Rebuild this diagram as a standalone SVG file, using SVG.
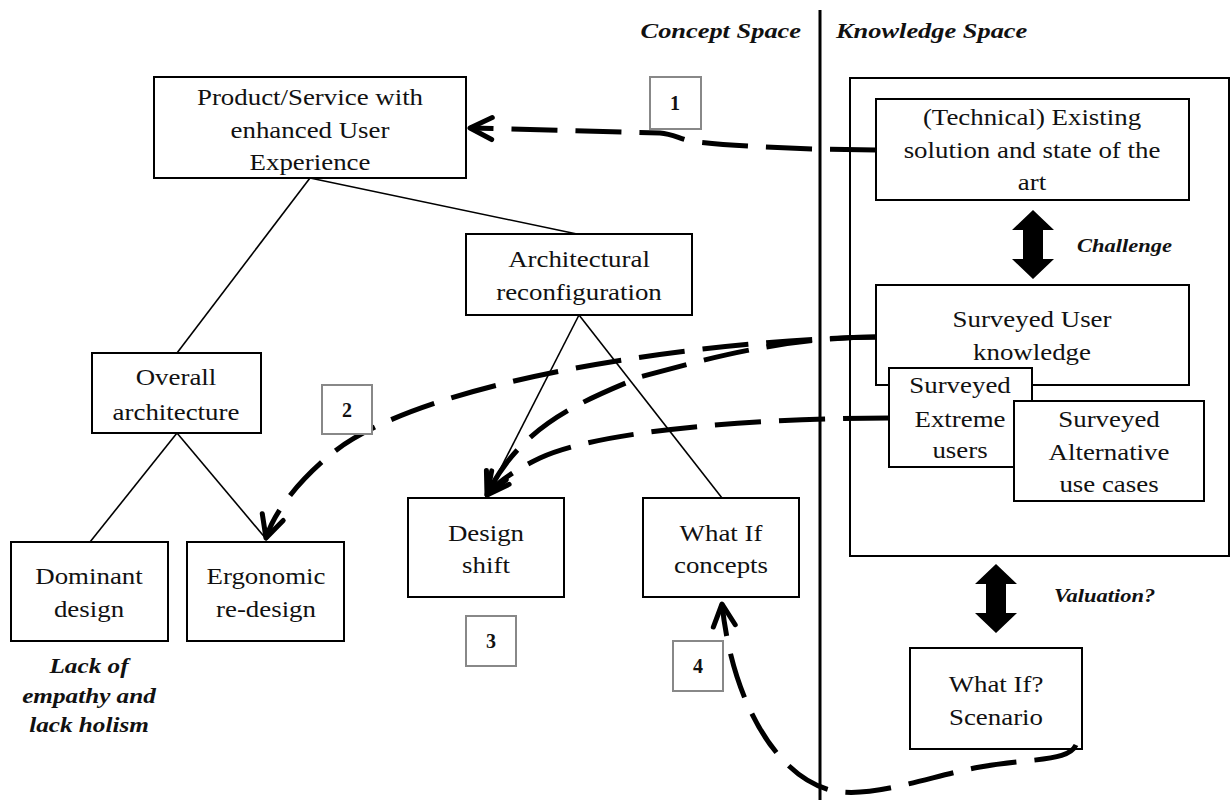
<svg xmlns="http://www.w3.org/2000/svg" width="1232" height="800" viewBox="0 0 1232 800">
<defs>
<style>
.box{fill:#fff;stroke:#000;stroke-width:2}
.lbl{fill:#fff;stroke:#888;stroke-width:2}
.t{font-family:"Liberation Serif","Times New Roman",serif;font-size:24px;fill:#111;text-anchor:middle}
.n{font-family:"Liberation Serif","Times New Roman",serif;font-size:20px;font-weight:bold;fill:#111;text-anchor:middle}
.bi{font-family:"Liberation Serif","Times New Roman",serif;font-weight:bold;font-style:italic;fill:#111}
.tree{stroke:#000;stroke-width:1.6;fill:none}
.dash{stroke:#000;stroke-width:5;fill:none;stroke-dasharray:46 18}
</style>
<marker id="chev" markerUnits="userSpaceOnUse" markerWidth="60" markerHeight="60" refX="0" refY="0" orient="auto" overflow="visible" viewBox="-30 -30 60 60">
<path d="M -22 -11 L 0 0 L -22 11" fill="none" stroke="#000" stroke-width="5" stroke-linecap="round" stroke-linejoin="round" stroke-dasharray="none"/>
</marker>
</defs>

<g id="tree-lines">
<line class="tree" x1="310" y1="178" x2="577" y2="234"/>
<line class="tree" x1="310" y1="178" x2="177" y2="353"/>
<line class="tree" x1="177" y1="433" x2="90" y2="542"/>
<line class="tree" x1="177" y1="433" x2="267" y2="540"/>
<line class="tree" x1="579" y1="315" x2="486" y2="497"/>
<line class="tree" x1="579" y1="315" x2="722" y2="498"/>
</g>

<line id="divider" x1="820" y1="10" x2="820" y2="800" stroke="#000" stroke-width="3"/>

<g id="headers">
<text class="bi" font-size="22" text-anchor="end" transform="translate(801,0) scale(1.2,1)" x="0" y="38">Concept Space</text>
<text class="bi" font-size="22" text-anchor="start" transform="translate(836,0) scale(1.2,1)" x="0" y="38">Knowledge Space</text>
</g>

<g id="knowledge-space">
<rect class="box" x="850" y="78" width="379" height="478"/>
</g>

<g id="product">
<rect class="box" x="154" y="77" width="312" height="101"/>
<g transform="translate(310,0) scale(1.12,1)">
<text class="t" x="0" y="105">Product/Service with</text>
<text class="t" x="0" y="138">enhanced User</text>
<text class="t" x="0" y="170">Experience</text>
</g>
</g>

<g id="architectural">
<rect class="box" x="466" y="234" width="226" height="81"/>
<g transform="translate(579,0) scale(1.12,1)">
<text class="t" x="0" y="267">Architectural</text>
<text class="t" x="0" y="300">reconfiguration</text>
</g>
</g>

<g id="overall">
<rect class="box" x="92" y="353" width="169" height="80"/>
<g transform="translate(176,0) scale(1.12,1)">
<text class="t" x="0" y="385">Overall</text>
<text class="t" x="0" y="420">architecture</text>
</g>
</g>

<g id="dominant">
<rect class="box" x="11" y="542" width="157" height="99"/>
<g transform="translate(89,0) scale(1.12,1)">
<text class="t" x="0" y="584">Dominant</text>
<text class="t" x="0" y="617">design</text>
</g>
</g>

<g id="ergonomic">
<rect class="box" x="187" y="542" width="157" height="99"/>
<g transform="translate(266,0) scale(1.12,1)">
<text class="t" x="0" y="584">Ergonomic</text>
<text class="t" x="0" y="617">re-design</text>
</g>
</g>

<g id="lack-note">
<g transform="translate(89,0) scale(1.2,1)">
<text class="bi" font-size="21" text-anchor="middle" x="0" y="673">Lack of</text>
<text class="bi" font-size="21" text-anchor="middle" x="0" y="703">empathy and</text>
<text class="bi" font-size="21" text-anchor="middle" x="0" y="732">lack holism</text>
</g>
</g>

<g id="design-shift">
<rect class="box" x="408" y="498" width="156" height="99"/>
<g transform="translate(486,0) scale(1.12,1)">
<text class="t" x="0" y="541">Design</text>
<text class="t" x="0" y="573">shift</text>
</g>
</g>

<g id="whatif-concepts">
<rect class="box" x="643" y="498" width="156" height="99"/>
<g transform="translate(721,0) scale(1.12,1)">
<text class="t" x="0" y="541">What If</text>
<text class="t" x="0" y="573">concepts</text>
</g>
</g>

<g id="technical">
<rect class="box" x="876" y="99" width="313" height="101"/>
<g transform="translate(1032,0) scale(1.12,1)">
<text class="t" x="0" y="125">(Technical) Existing</text>
<text class="t" x="0" y="158">solution and state of the</text>
<text class="t" x="0" y="190">art</text>
</g>
</g>

<g id="challenge">
<polygon points="1033,210 1054,230 1043,230 1043,259 1054,259 1033,279 1012,259 1023,259 1023,230 1012,230" fill="#000"/>
<text class="bi" font-size="18" text-anchor="start" transform="translate(1077,0) scale(1.25,1)" x="0" y="252">Challenge</text>
</g>

<g id="user-knowledge">
<rect class="box" x="876" y="285" width="313" height="100"/>
<g transform="translate(1032,0) scale(1.12,1)">
<text class="t" x="0" y="327">Surveyed User</text>
<text class="t" x="0" y="360">knowledge</text>
</g>
</g>

<g id="extreme-users">
<rect class="box" x="889" y="368" width="143" height="99"/>
<g transform="translate(960,0) scale(1.12,1)">
<text class="t" x="0" y="393">Surveyed</text>
<text class="t" x="0" y="427">Extreme</text>
<text class="t" x="0" y="458">users</text>
</g>
</g>

<g id="alternative">
<rect class="box" x="1014" y="401" width="190" height="100"/>
<g transform="translate(1109,0) scale(1.12,1)">
<text class="t" x="0" y="427">Surveyed</text>
<text class="t" x="0" y="460">Alternative</text>
<text class="t" x="0" y="492">use cases</text>
</g>
</g>

<g id="valuation">
<polygon points="996,564 1017,584 1006,584 1006,613 1017,613 996,633 975,613 986,613 986,584 975,584" fill="#000"/>
<text class="bi" font-size="18" text-anchor="start" transform="translate(1054,0) scale(1.25,1)" x="0" y="602">Valuation?</text>
</g>

<g id="scenario">
<rect class="box" x="910" y="648" width="172" height="101"/>
<g transform="translate(996,0) scale(1.12,1)">
<text class="t" x="0" y="692">What If?</text>
<text class="t" x="0" y="725">Scenario</text>
</g>
</g>

<g id="connectors">
<path class="dash" marker-end="url(#chev)" d="M 876 150 L 812 149 C 760 147 720 145 690 141 C 678 138 672 134 660 133 L 470 128"/>
<path class="dash" marker-end="url(#chev)" d="M 876 337 C 700 340 420 380 330 455 C 300 480 275 510 266 538"/>
<path class="dash" marker-end="url(#chev)" d="M 876 337 C 780 338 710 358 640 377 C 585 400 520 425 487 495"/>
<path class="dash" marker-end="url(#chev)" d="M 889 418 C 760 418 600 430 540 458 C 515 470 497 482 487 495"/>
<path class="dash" marker-end="url(#chev)" d="M 1076 745 C 1068 762 1030 758 980 767 S 870 800 830 790 C 775 775 732 700 722 604"/>
</g>

<g id="labels">
<rect class="lbl" x="650" y="77" width="51" height="52"/>
<text class="n" x="675" y="110">1</text>
<rect class="lbl" x="322" y="385" width="50" height="49"/>
<text class="n" x="347" y="417">2</text>
<rect class="lbl" x="466" y="616" width="50" height="50"/>
<text class="n" x="491" y="648">3</text>
<rect class="lbl" x="673" y="641" width="50" height="50"/>
<text class="n" x="698" y="673">4</text>
</g>
</svg>
